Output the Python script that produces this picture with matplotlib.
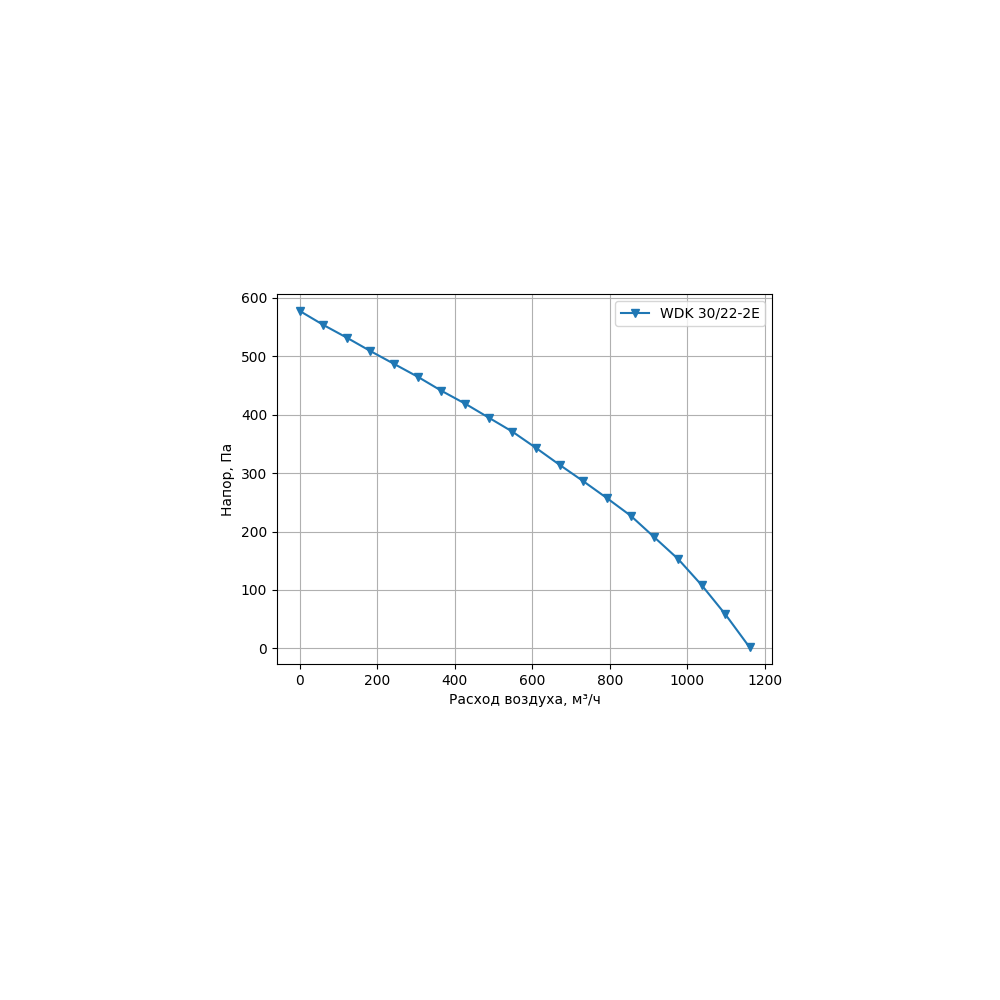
import matplotlib
matplotlib.use("Agg")
import matplotlib.pyplot as plt

# Расход воздуха, м³/ч
flow = [0, 61, 122, 183, 244, 305, 366, 427, 488, 549,
        610, 671, 732, 793, 854, 915, 976, 1037, 1098, 1160]
# Напор, Па
pressure = [578, 554, 532, 509, 487, 465, 441, 419, 395, 371,
            343, 314, 286, 257, 227, 190, 153, 108, 58, 2]

fig = plt.figure(figsize=(10, 10), dpi=100)
ax = fig.add_axes([0.277, 0.336, 0.495, 0.370])

ax.plot(flow, pressure, marker='v', label='WDK 30/22-2E')
ax.set_xlabel('Расход воздуха, м³/ч')
ax.set_ylabel('Напор, Па')
ax.set_xticks([0, 200, 400, 600, 800, 1000, 1200])
ax.set_yticks([0, 100, 200, 300, 400, 500, 600])
ax.legend()
ax.grid(True)

fig.savefig('out.png', dpi=100)
